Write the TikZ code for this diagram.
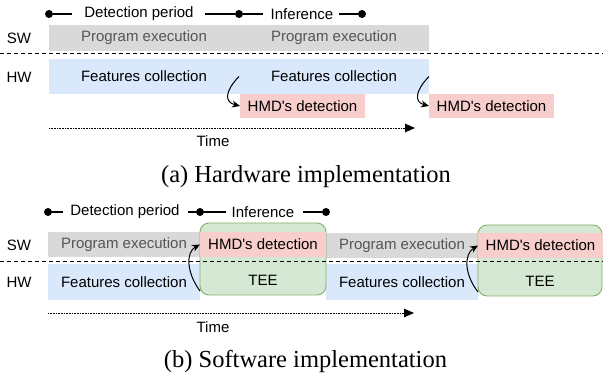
\documentclass[tikz,border=0pt]{standalone}
\usepackage{fontspec}
\setmainfont{Liberation Serif}
\newfontfamily\helv{Liberation Sans}
\newfontfamily\capfont{Liberation Serif}
\usetikzlibrary{arrows.meta}
\definecolor{greyfill}{HTML}{D9D9D9}
\definecolor{bluefill}{HTML}{DAE8FC}
\definecolor{redfill}{HTML}{F8CECC}
\definecolor{greenfill}{HTML}{D5E8D4}
\definecolor{greenline}{HTML}{82B366}
\definecolor{greytext}{HTML}{555555}
\tikzset{
  lbl/.style={font=\helv\fontsize{15}{18}\selectfont, inner sep=0pt},
  bar/.style={inner sep=0pt, outer sep=0pt, font=\helv\fontsize{15}{18}\selectfont},
  gbar/.style={bar, fill=greyfill, text=greytext},
  bbar/.style={bar, fill=bluefill},
  rbar/.style={bar, fill=redfill},
  teebox/.style={bar, fill=greenfill, draw=greenline, line width=0.9pt, rounded corners=9pt},
  dot/.style={circle, fill=black, inner sep=0pt, minimum size=8pt},
  tline/.style={line width=1.2pt},
  sep/.style={dash pattern=on 4pt off 3pt, line width=0.9pt},
  timeln/.style={dash pattern=on 0.8pt off 0.8pt, line width=0.9pt, -{Triangle[length=10pt,width=8.5pt]}},
  curv/.style={line width=1pt, -{Stealth[length=8pt,width=7pt]}},
  captext/.style={font=\capfont\fontsize{24.5}{28}\selectfont, inner sep=0pt, anchor=base},
}
\begin{document}
\begin{tikzpicture}[x=1pt,y=-1pt]
\useasboundingbox (0,0) rectangle (603,379);
\fill[white] (0,0) rectangle (603,379);

% ---------------- (a) ----------------
\node[dot] (ad1) at (49,14) {};
\node[lbl] (adp) at (139,14) {Detection period};
\node[dot] (ad2) at (239,14) {};
\node[lbl] (ainf) at (302,14) {Inference};
\node[dot] (ad3) at (362,14) {};
\coordinate (aa1) at (72,14);
\coordinate (aa2) at (205,14);
\coordinate (aa3) at (263,14);
\coordinate (aa4) at (339,14);
\draw[tline] (ad1) -- (aa1);
\draw[tline] (aa2) -- (ad2) -- (aa3);
\draw[tline] (aa4) -- (ad3);

\node[lbl] (asw) at (19,38) {SW};
\node[lbl] (ahw) at (19,77) {HW};

\node[gbar, minimum width=190pt, minimum height=26pt] (ape1) at (144,38) {Program execution};
\node[gbar, minimum width=190pt, minimum height=26pt] (ape2) at (334,38) {Program execution};
\coordinate (asepL) at (0,53);
\coordinate (asepR) at (603,53);
\draw[sep] (asepL) -- (asepR);
\node[bbar, minimum width=190pt, minimum height=35pt] (afc1) at (144,76.5) {Features collection};
\node[bbar, minimum width=190pt, minimum height=35pt] (afc2) at (334,76.5) {Features collection};
\node[rbar, minimum width=125pt, minimum height=24pt] (ahmd1) at (302.5,106) {HMD's detection};
\node[rbar, minimum width=125pt, minimum height=24pt] (ahmd2) at (491.5,106) {HMD's detection};

\draw[curv] (afc1.east) .. controls (225,91) and (224,102) .. (ahmd1.west);
\draw[curv] (afc2.east) .. controls (415,91) and (414,102) .. (ahmd2.west);

\coordinate (at0) at (49,128);
\coordinate (at1) at (415,128);
\draw[timeln] (at0) -- (at1);
\node[lbl] (atime) at (213,141) {Time};

\node[captext] (acap) at (306,183) {(a) Hardware implementation};

% ---------------- (b) ----------------
\node[dot] (bd1) at (48,212) {};
\node[lbl] (bdp) at (125,212) {Detection period};
\node[dot] (bd2) at (200,212) {};
\node[lbl] (binf) at (263,212) {Inference};
\node[dot] (bd3) at (326,212) {};
\coordinate (ba1) at (63,212);
\coordinate (ba2) at (188,212);
\coordinate (ba3) at (226,212);
\coordinate (ba4) at (303,212);
\draw[tline] (bd1) -- (ba1);
\draw[tline] (ba2) -- (bd2) -- (ba3);
\draw[tline] (ba4) -- (bd3);

\node[lbl] (bsw) at (19,245) {SW};
\node[lbl] (bhw) at (19,282) {HW};

\node[gbar, minimum width=152pt, minimum height=25pt] (bpe1) at (124,244.5) {Program execution};
\node[gbar, minimum width=152pt, minimum height=25pt] (bpe2) at (402,245.5) {Program execution};
\node[bbar, minimum width=152pt, minimum height=36pt] (bfc1) at (124,282) {Features collection};
\node[bbar, minimum width=152pt, minimum height=36pt] (bfc2) at (402,282) {Features collection};

\node[teebox, minimum width=126pt, minimum height=72pt] (btee1) at (263,259) {};
\node[bar] (btee1t) at (263,280) {TEE};
\node[teebox, minimum width=124pt, minimum height=71pt] (btee2) at (540,260.5) {};
\node[bar] (btee2t) at (540,281) {TEE};
\node[rbar, minimum width=126pt, minimum height=25pt] (bhmd1) at (263,244.5) {HMD's detection};
\node[rbar, minimum width=125pt, minimum height=25pt] (bhmd2) at (540.5,245.5) {HMD's detection};

\coordinate (bsepL) at (0,261);
\coordinate (bsepR) at (603,261);
\draw[sep] (bsepL) -- (bsepR);

\coordinate (bs1) at (200,291);
\coordinate (bs2) at (478,292);
\draw[curv] (bs1) .. controls (186,272) and (186,252) .. (bhmd1.west);
\draw[curv] (bs2) .. controls (464,274) and (464,254) .. (bhmd2.west);

\coordinate (bt0) at (48,313);
\coordinate (bt1) at (414,313);
\draw[timeln] (bt0) -- (bt1);
\node[lbl] (btime) at (213,327) {Time};

\node[captext] (bcap) at (305.5,368) {(b) Software implementation};
\end{tikzpicture}
\end{document}
